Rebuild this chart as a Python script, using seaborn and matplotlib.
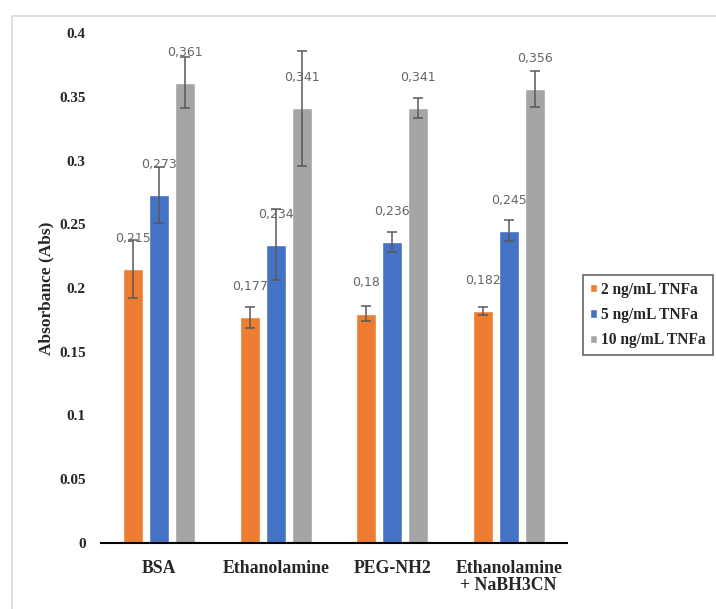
import matplotlib
matplotlib.use("Agg")
import matplotlib.pyplot as plt
import seaborn as sns
import pandas as pd
from matplotlib.patches import Rectangle

# Blocking agents and TNFa concentrations
categories = ["BSA", "Ethanolamine", "PEG-NH2", "Ethanolamine\n+ NaBH3CN"]
series = ["2 ng/mL TNFa", "5 ng/mL TNFa", "10 ng/mL TNFa"]
abs_2ng = [0.215, 0.177, 0.180, 0.182]
abs_5ng = [0.273, 0.234, 0.236, 0.245]
abs_10ng = [0.361, 0.341, 0.341, 0.356]
err_2ng = [0.023, 0.008, 0.006, 0.003]
err_5ng = [0.022, 0.028, 0.008, 0.008]
err_10ng = [0.020, 0.045, 0.008, 0.014]
y_ticks = [0, 0.05, 0.1, 0.15, 0.2, 0.25, 0.3, 0.35, 0.4]
y_tick_labels = ["0", "0.05", "0.1", "0.15", "0.2", "0.25", "0.3", "0.35", "0.4"]

colors = ["#ED7D31", "#4472C4", "#A5A5A5"]

rows = []
for s, vals, errs in zip(series, [abs_2ng, abs_5ng, abs_10ng], [err_2ng, err_5ng, err_10ng]):
    for c, v, e in zip(categories, vals, errs):
        rows.append({"Blocking": c, "TNFa": s, "Abs": v, "Err": e})
df = pd.DataFrame(rows)

sns.set_theme(style="white")
serif_bold = {"family": "Liberation Serif", "weight": "bold"}

fig = plt.figure(figsize=(7.16, 6.09), dpi=100)
# light outer frame
fig.patches.append(Rectangle((12 / 716, -0.1), 1.2, 1 - 16 / 609 + 0.1,
                             transform=fig.transFigure, fill=False,
                             edgecolor="#d9d9d9", linewidth=1.2))
ax = fig.add_axes([101 / 716, 1 - 543 / 609, 466 / 716, 510 / 609])

sns.barplot(data=df, x="Blocking", y="Abs", hue="TNFa", order=categories,
            hue_order=series, palette=colors, width=0.67, gap=0.23,
            errorbar=None, ax=ax, saturation=1)

# error bars and value labels from the same data
for container, s in zip(ax.containers, series):
    sub = df[df["TNFa"] == s].set_index("Blocking").loc[categories]
    for patch, v, e in zip(container.patches, sub["Abs"], sub["Err"]):
        xc = patch.get_x() + patch.get_width() / 2
        ax.errorbar(xc, v, yerr=e, fmt="none", ecolor="#595959",
                    elinewidth=1.1, capsize=3.5, capthick=1.1, zorder=3)
        ax.annotate(f"{v:.3f}".rstrip("0").replace(".", ","), (xc, v),
                    xytext=(0, 22), textcoords="offset points",
                    ha="center", va="center", fontsize=9,
                    color="#666666", family="DejaVu Sans")

ax.set_ylim(0, 0.4)
ax.set_xlim(-0.5, 3.5)
ax.set_yticks(y_ticks)
ax.set_yticklabels(y_tick_labels, fontdict=serif_bold, fontsize=11)
ax.set_xticks(range(len(categories)))
ax.set_xticklabels(categories, fontdict=serif_bold, fontsize=12.8,
                   linespacing=1.05)
ax.tick_params(axis="y", length=0, pad=11)
ax.tick_params(axis="x", length=0, pad=12)
ax.set_xlabel("")
ax.set_ylabel("Absorbance (Abs)", fontdict=serif_bold, fontsize=12.5, labelpad=3)

for side in ["left", "right", "top"]:
    ax.spines[side].set_visible(False)
ax.spines["bottom"].set_color("black")
ax.spines["bottom"].set_linewidth(1.5)

leg = ax.legend(loc="center left", bbox_to_anchor=(583 / 716, 1 - 315 / 609),
                bbox_transform=fig.transFigure, frameon=True, fancybox=False,
                prop={"family": "Liberation Serif", "weight": "bold", "size": 11.2},
                handlelength=0.45, handleheight=0.45, handletextpad=0.25,
                labelspacing=0.6, borderpad=0.45, borderaxespad=0)
leg.get_frame().set_edgecolor("#404040")
leg.get_frame().set_linewidth(1.2)

fig.savefig("out.png", dpi=100)
